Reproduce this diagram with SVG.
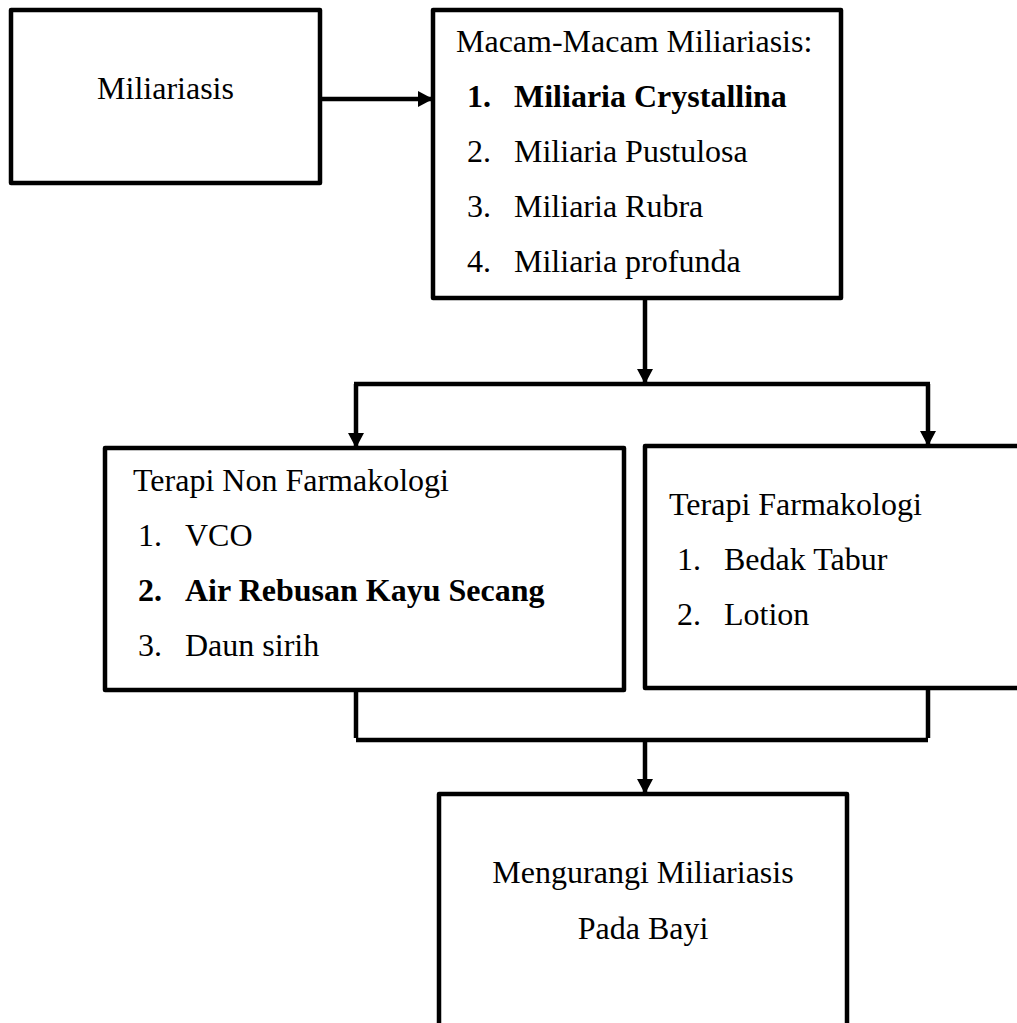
<svg xmlns="http://www.w3.org/2000/svg" width="1017" height="1023" viewBox="0 0 1017 1023">
<style>
.box{fill:#fff;stroke:#000;stroke-width:4.5;stroke-linejoin:round}
.t{font-family:"Liberation Serif","Times New Roman",serif;font-size:32px;fill:#000}
.b{font-weight:bold}
.c{fill:none;stroke:#000;stroke-width:4.5}
</style>
<defs>
<marker id="ah" markerUnits="userSpaceOnUse" markerWidth="16" markerHeight="18" refX="15" refY="8" orient="auto">
<path d="M0,0 L15,8 L0,16 Z" fill="#000"/>
</marker>
</defs>
<rect width="1017" height="1023" fill="#fff"/>
<g id="connectors">
<line class="c" x1="320" y1="99" x2="433" y2="99" marker-end="url(#ah)"/>
<line class="c" x1="645" y1="298" x2="645" y2="384" marker-end="url(#ah)"/>
<line class="c" x1="354" y1="384" x2="930" y2="384"/>
<line class="c" x1="356" y1="384" x2="356" y2="448" marker-end="url(#ah)"/>
<line class="c" x1="928" y1="384" x2="928" y2="446" marker-end="url(#ah)"/>
<line class="c" x1="356" y1="690" x2="356" y2="738"/>
<line class="c" x1="928" y1="688" x2="928" y2="738"/>
<line class="c" x1="356" y1="740" x2="928" y2="740"/>
<line class="c" x1="645" y1="740" x2="645" y2="794" marker-end="url(#ah)"/>
</g>
<g id="miliariasis">
<rect class="box" x="11" y="10" width="309" height="173"/>
<text class="t" x="165.5" y="99" text-anchor="middle">Miliariasis</text>
</g>
<g id="macam">
<rect class="box" x="433" y="10" width="408" height="288"/>
<text class="t" x="456" y="52">Macam-Macam Miliariasis:</text>
<text class="t b" x="467" y="107">1.</text><text class="t b" x="514" y="107">Miliaria Crystallina</text>
<text class="t" x="467" y="162">2.</text><text class="t" x="514" y="162">Miliaria Pustulosa</text>
<text class="t" x="467" y="217">3.</text><text class="t" x="514" y="217">Miliaria Rubra</text>
<text class="t" x="467" y="272">4.</text><text class="t" x="514" y="272">Miliaria profunda</text>
</g>
<g id="nonfarmakologi">
<rect class="box" x="105" y="448" width="519" height="242"/>
<text class="t" x="133" y="491">Terapi Non Farmakologi</text>
<text class="t" x="138" y="546">1.</text><text class="t" x="185" y="546">VCO</text>
<text class="t b" x="138" y="601">2.</text><text class="t b" x="185" y="601">Air Rebusan Kayu Secang</text>
<text class="t" x="138" y="656">3.</text><text class="t" x="185" y="656">Daun sirih</text>
</g>
<g id="farmakologi">
<rect class="box" x="645" y="446" width="400" height="242"/>
<text class="t" x="669" y="515">Terapi Farmakologi</text>
<text class="t" x="677" y="570">1.</text><text class="t" x="724" y="570">Bedak Tabur</text>
<text class="t" x="677" y="625">2.</text><text class="t" x="724" y="625">Lotion</text>
</g>
<g id="hasil">
<rect class="box" x="439" y="794" width="408" height="260"/>
<text class="t" x="643" y="883" text-anchor="middle">Mengurangi Miliariasis</text>
<text class="t" x="643" y="939" text-anchor="middle">Pada Bayi</text>
</g>
</svg>
